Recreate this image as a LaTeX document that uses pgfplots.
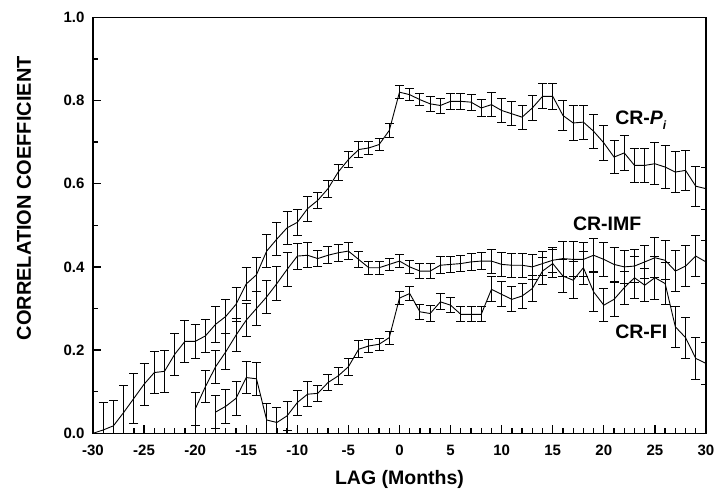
\documentclass[border=0pt]{standalone}
\usepackage{pgfplots}
\pgfplotsset{compat=1.18}
\usepackage{pgfplotstable}
\usepackage{fontspec}
\setmainfont{Liberation Sans}

\pgfplotstableread{
x y e
-30 0.000 0.000
-29 0.008 0.065
-28 0.018 0.062
-27 0.050 0.064
-26 0.084 0.060
-25 0.118 0.050
-24 0.146 0.050
-23 0.149 0.050
-22 0.190 0.050
-21 0.221 0.050
-20 0.221 0.040
-19 0.234 0.040
-18 0.262 0.043
-17 0.281 0.041
-16 0.310 0.040
-15 0.359 0.039
-14 0.381 0.041
-13 0.438 0.040
-12 0.467 0.039
-11 0.494 0.040
-10 0.507 0.031
-9 0.540 0.030
-8 0.560 0.020
-7 0.588 0.021
-6 0.628 0.019
-5 0.658 0.020
-4 0.682 0.020
-3 0.686 0.016
-2 0.694 0.015
-1 0.728 0.016
0 0.820 0.015
1 0.814 0.015
2 0.802 0.015
3 0.792 0.018
4 0.788 0.018
5 0.798 0.019
6 0.798 0.019
7 0.796 0.019
8 0.782 0.021
9 0.790 0.029
10 0.776 0.029
11 0.768 0.029
12 0.760 0.029
13 0.782 0.029
14 0.810 0.030
15 0.810 0.032
16 0.764 0.037
17 0.746 0.041
18 0.748 0.041
19 0.726 0.041
20 0.698 0.041
21 0.664 0.039
22 0.674 0.041
23 0.644 0.040
24 0.644 0.040
25 0.648 0.051
26 0.640 0.051
27 0.628 0.049
28 0.632 0.049
29 0.594 0.048
30 0.588 0.050
}\pidata

\pgfplotstableread{
x y e
-20 0.058 0.040
-19 0.112 0.038
-18 0.160 0.040
-17 0.196 0.043
-16 0.236 0.039
-15 0.272 0.040
-14 0.300 0.041
-13 0.328 0.040
-12 0.360 0.040
-11 0.394 0.040
-10 0.426 0.031
-9 0.428 0.030
-8 0.420 0.020
-7 0.428 0.020
-6 0.434 0.020
-5 0.438 0.020
-4 0.418 0.020
-3 0.398 0.015
-2 0.398 0.015
-1 0.406 0.015
0 0.414 0.015
1 0.400 0.015
2 0.390 0.018
3 0.390 0.018
4 0.404 0.020
5 0.406 0.020
6 0.408 0.020
7 0.412 0.020
8 0.414 0.020
9 0.414 0.029
10 0.406 0.029
11 0.404 0.029
12 0.404 0.029
13 0.400 0.029
14 0.408 0.029
15 0.416 0.030
16 0.420 0.042
17 0.418 0.042
18 0.418 0.040
19 0.428 0.040
20 0.418 0.040
21 0.406 0.040
22 0.400 0.040
23 0.402 0.040
24 0.412 0.040
25 0.422 0.048
26 0.416 0.047
27 0.390 0.049
28 0.402 0.050
29 0.426 0.050
30 0.412 0.052
}\imfdata

\pgfplotstableread{
x y e
-18 0.051 0.040
-17 0.065 0.041
-16 0.084 0.040
-15 0.134 0.038
-14 0.131 0.039
-13 0.032 0.040
-12 0.026 0.036
-11 0.042 0.034
-10 0.074 0.030
-9 0.094 0.030
-8 0.096 0.020
-7 0.122 0.020
-6 0.138 0.020
-5 0.160 0.020
-4 0.202 0.020
-3 0.210 0.015
-2 0.214 0.015
-1 0.230 0.016
0 0.325 0.016
1 0.336 0.016
2 0.292 0.018
3 0.288 0.020
4 0.316 0.019
5 0.308 0.018
6 0.286 0.018
7 0.286 0.018
8 0.286 0.018
9 0.346 0.030
10 0.334 0.030
11 0.322 0.030
12 0.330 0.030
13 0.348 0.032
14 0.390 0.033
15 0.408 0.034
16 0.378 0.040
17 0.368 0.045
18 0.398 0.040
19 0.340 0.046
20 0.308 0.040
21 0.322 0.040
22 0.350 0.040
23 0.374 0.050
24 0.356 0.040
25 0.374 0.052
26 0.360 0.050
27 0.256 0.050
28 0.230 0.049
29 0.180 0.050
30 0.168 0.050
}\fidata

\begin{document}
\begin{tikzpicture}
\begin{axis}[
  scale only axis,
  width=613pt, height=416pt,
  xmin=-30, xmax=30, ymin=0, ymax=1,
  xtick={-30,-25,...,30},
  xticklabels={-30,-25,-20,-15,-10,-5,0,5,10,15,20,25,30},
  ytick={0,0.2,0.4,0.6,0.8,1.0},
  yticklabels={0.0,0.2,0.4,0.6,0.8,1.0},
  minor x tick num=4,
  minor y tick num=1,
  xtick pos=bottom, ytick pos=left,
  tick align=inside,
  major tick length=8pt, minor tick length=5pt,
  tick style={black, line width=1.3pt},
  axis line style={line width=1.4pt},
  ticklabel style={font=\bfseries\fontsize{15}{15}\selectfont},
  xticklabel style={yshift=-8pt},
  yticklabel style={xshift=-5pt},
  xlabel={LAG (Months)},
  ylabel={CORRELATION COEFFICIENT},
  xlabel style={font=\bfseries\fontsize{19.5}{19.5}\selectfont, at={(axis description cs:0.5,-0.112)}, anchor=center},
  ylabel style={font=\bfseries\fontsize{20}{20}\selectfont, at={(axis description cs:-0.1126,0.565)}, anchor=center, rotate=0},
  every axis plot/.append style={black, line width=0.9pt, mark=none},
  error bars/error bar style={black, line width=0.9pt},
  error bars/error mark options={black, line width=0.9pt, mark size=4.5pt, rotate=90},
]
\addplot+[black, no markers, error bars/.cd, y dir=both, y explicit] table[x=x, y=y, y error=e] {\pidata};
\addplot+[black, no markers, error bars/.cd, y dir=both, y explicit] table[x=x, y=y, y error=e] {\imfdata};
\addplot+[black, no markers, error bars/.cd, y dir=both, y explicit] table[x=x, y=y, y error=e] {\fidata};
\node[anchor=west, inner sep=0pt, font=\bfseries\fontsize{19.5}{19.5}\selectfont] at (axis cs:21.1,0.752) {CR-\textit{P}\raisebox{-0.45ex}{\fontsize{12}{12}\selectfont\textit{i}}};
\node[anchor=west, inner sep=0pt, font=\bfseries\fontsize{19.5}{19.5}\selectfont] at (axis cs:16.97,0.504) {CR-IMF};
\node[anchor=west, inner sep=0pt, font=\bfseries\fontsize{19.5}{19.5}\selectfont] at (axis cs:21.1,0.244) {CR-FI};
\coordinate (SW) at (rel axis cs:0,0);
\end{axis}
\pgfresetboundingbox
\path (SW) ++(-93pt,-56.7pt) rectangle ++(715pt,490pt);
\end{tikzpicture}
\end{document}
